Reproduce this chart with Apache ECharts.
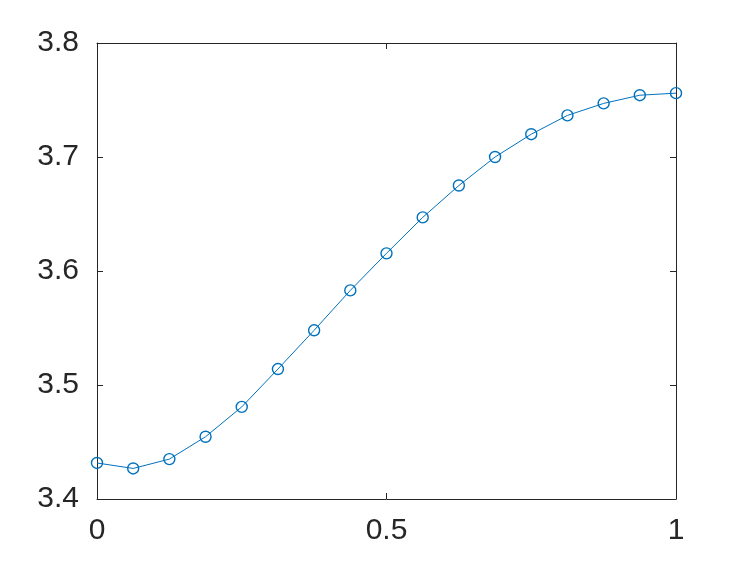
<!DOCTYPE html>
<html>
<head>
<meta charset="utf-8">
<script src="https://cdn.jsdelivr.net/npm/echarts@6/dist/echarts.min.js"></script>
<style>html,body{margin:0;padding:0;background:#fff}#c{width:747px;height:561px}</style>
</head>
<body>
<div id="c"></div>
<script>
const xValues = [0, 0.0625, 0.125, 0.1875, 0.25, 0.3125, 0.375, 0.4375, 0.5, 0.5625, 0.625, 0.6875, 0.75, 0.8125, 0.875, 0.9375, 1];
const yValues = [3.4316, 3.4268, 3.4350, 3.4546, 3.4808, 3.5140, 3.5480, 3.5830, 3.6155, 3.6470, 3.6750, 3.7000, 3.7200, 3.7365, 3.7470, 3.7542, 3.7560];
const xTicks = [0, 0.5, 1];
const yTicks = [3.4, 3.5, 3.6, 3.7, 3.8];

const font = 'Liberation Sans, Arial, sans-serif';
const axisColor = '#262626';
const tickCommon = {show: true, inside: true, length: 6, lineStyle: {color: '#262626', width: 1}};
const chart = echarts.init(document.getElementById('c'), null, {renderer: 'canvas'});
chart.setOption({
  animation: false,
  grid: {left: 97, right: 71, top: 43, bottom: 62, containLabel: false},
  xAxis: [
    {type: 'value', min: xTicks[0], max: xTicks[xTicks.length-1], interval: 0.5, position: 'bottom',
     axisLine: {show: true, lineStyle: {color: axisColor, width: 1}},
     axisTick: tickCommon, splitLine: {show: false},
     axisLabel: {color: '#262626', fontSize: 30, fontFamily: font, margin: 17,
       formatter: v => String(+v.toFixed(2))}},
    {type: 'value', min: 0, max: 1, interval: 0.5, position: 'top',
     axisLine: {show: true, onZero: false, lineStyle: {color: axisColor, width: 1}},
     axisTick: tickCommon, axisLabel: {show: false}, splitLine: {show: false}}
  ],
  yAxis: [
    {type: 'value', min: yTicks[0], max: yTicks[yTicks.length-1], interval: 0.1, position: 'left',
     axisLine: {show: true, onZero: false, lineStyle: {color: axisColor, width: 1}},
     axisTick: tickCommon, splitLine: {show: false},
     axisLabel: {color: '#262626', fontSize: 30, fontFamily: font, margin: 18,
       formatter: v => v.toFixed(1)}},
    {type: 'value', min: 3.4, max: 3.8, interval: 0.1, position: 'right',
     axisLine: {show: true, onZero: false, lineStyle: {color: axisColor, width: 1}},
     axisTick: tickCommon, axisLabel: {show: false}, splitLine: {show: false}}
  ],
  series: [{
    type: 'line',
    data: xValues.map((x, i) => [x, yValues[i]]),
    symbol: 'circle', symbolSize: 11,
    lineStyle: {color: '#0072BD', width: 1},
    itemStyle: {color: 'rgba(0,0,0,0)', borderColor: '#0072BD', borderWidth: 1.4},
    clip: false
  }]
});
</script>
</body>
</html>
